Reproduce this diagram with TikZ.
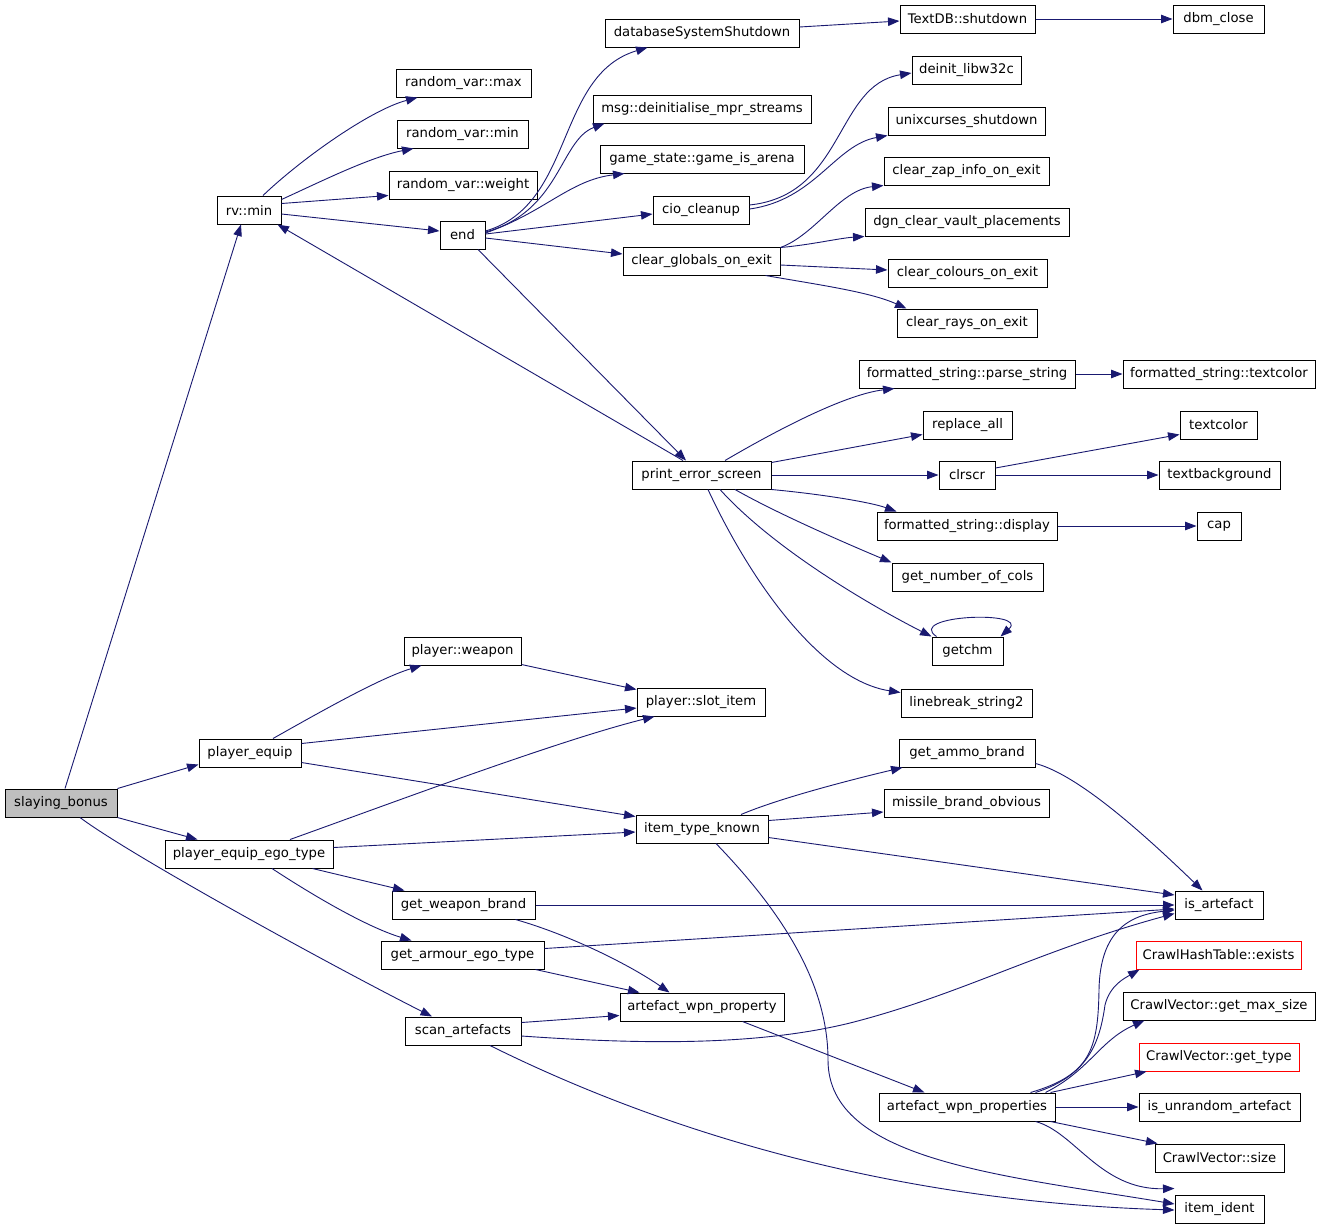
\documentclass[tikz,border=0pt]{standalone}
\usepackage{fontspec}
\setmainfont{DejaVu Sans}
\usetikzlibrary{arrows.meta}
\definecolor{edgeblue}{HTML}{191970}
\definecolor{boxgray}{HTML}{BFBFBF}
\definecolor{boxred}{HTML}{FF0000}
\begin{document}
\begin{tikzpicture}[x=1pt,y=-1pt,
  fn/.style={draw=black, line width=1pt, rectangle, minimum height=28pt, inner sep=0pt,
    font=\fontsize{13.2}{16}\selectfont, anchor=center},
  fnred/.style={fn, draw=boxred},
  fnroot/.style={fn, fill=boxgray},
  ed/.style={draw=edgeblue, line width=0.9pt, -{Triangle[length=11.5pt,width=8.5pt]}}]
\useasboundingbox (0,0) rectangle (1320,1227);
\fill[white] (0,0) rectangle (1320,1227);
% nodes
\node[fnroot, minimum width=112pt] (sb) at (61,803) {slaying\_bonus};
\node[fn, minimum width=64pt] (rvmin) at (249,210) {rv::min};
\node[fn, minimum width=135pt] (rvmax) at (463.5,83) {random\_var::max};
\node[fn, minimum width=131pt] (rvmn) at (462.5,134) {random\_var::min};
\node[fn, minimum width=148pt] (rvw) at (463,185) {random\_var::weight};
\node[fn, minimum width=45pt] (endn) at (462.5,235) {end};
\node[fn, minimum width=194pt] (dss) at (702,33) {databaseSystemShutdown};
\node[fn, minimum width=218pt] (msg) at (702,109) {msg::deinitialise\_mpr\_streams};
\node[fn, minimum width=204pt] (gsa) at (702,159) {game\_state::game\_is\_arena};
\node[fn, minimum width=96pt] (cio) at (701,210) {cio\_cleanup};
\node[fn, minimum width=157pt] (cgoe) at (701.5,261) {clear\_globals\_on\_exit};
\node[fn, minimum width=135pt] (tdb) at (967.5,19) {TextDB::shutdown};
\node[fn, minimum width=91pt] (dbm) at (1218.5,19) {dbm\_close};
\node[fn, minimum width=109pt] (deinit) at (966.5,70) {deinit\_libw32c};
\node[fn, minimum width=157pt] (unix) at (966.5,121) {unixcurses\_shutdown};
\node[fn, minimum width=165pt] (czap) at (966.5,171) {clear\_zap\_info\_on\_exit};
\node[fn, minimum width=204pt] (dgn) at (967,222) {dgn\_clear\_vault\_placements};
\node[fn, minimum width=159pt] (ccol) at (967.5,273) {clear\_colours\_on\_exit};
\node[fn, minimum width=140pt] (crays) at (967,323) {clear\_rays\_on\_exit};
\node[fn, minimum width=216pt] (fsps) at (967,374) {formatted\_string::parse\_string};
\node[fn, minimum width=192pt] (fstc) at (1219,374) {formatted\_string::textcolor};
\node[fn, minimum width=89pt] (ra) at (967.5,425) {replace\_all};
\node[fn, minimum width=77pt] (tcol) at (1218.5,425) {textcolor};
\node[fn, minimum width=56pt] (clrscr) at (967,475) {clrscr};
\node[fn, minimum width=121pt] (tbg) at (1219.5,475) {textbackground};
\node[fn, minimum width=180pt] (fsd) at (967,526) {formatted\_string::display};
\node[fn, minimum width=44pt] (capn) at (1219,526) {cap};
\node[fn, minimum width=151pt] (gnoc) at (967.5,577) {get\_number\_of\_cols};
\node[fn, minimum width=71pt] (getchm) at (967.5,651) {getchm};
\node[fn, minimum width=131pt] (lb2) at (966.5,703) {linebreak\_string2};
\node[fn, minimum width=139pt] (pes) at (701.5,475) {print\_error\_screen};
\node[fn, minimum width=117pt] (pw) at (462.5,651) {player::weapon};
\node[fn, minimum width=128pt] (psi) at (701,702) {player::slot\_item};
\node[fn, minimum width=102pt] (pe) at (250,753) {player\_equip};
\node[fn, minimum width=168pt] (peet) at (249,854) {player\_equip\_ego\_type};
\node[fn, minimum width=132pt] (itk) at (702,829) {item\_type\_known};
\node[fn, minimum width=136pt] (gab) at (967,753) {get\_ammo\_brand};
\node[fn, minimum width=165pt] (mbo) at (966.5,803) {missile\_brand\_obvious};
\node[fn, minimum width=88pt] (isa) at (1219,905) {is\_artefact};
\node[fnred, minimum width=165pt] (chte) at (1218.5,955) {CrawlHashTable::exists};
\node[fn, minimum width=192pt] (cvgms) at (1219,1006) {CrawlVector::get\_max\_size};
\node[fnred, minimum width=160pt] (cvgt) at (1219,1057) {CrawlVector::get\_type};
\node[fn, minimum width=161pt] (iua) at (1219.5,1107) {is\_unrandom\_artefact};
\node[fn, minimum width=129pt] (cvs) at (1219.5,1158) {CrawlVector::size};
\node[fn, minimum width=89pt] (iid) at (1219.5,1209) {item\_ident};
\node[fn, minimum width=176pt] (awps) at (967,1107) {artefact\_wpn\_properties};
\node[fn, minimum width=143pt] (gwb) at (463.5,905) {get\_weapon\_brand};
\node[fn, minimum width=163pt] (gaet) at (462.5,955) {get\_armour\_ego\_type};
\node[fn, minimum width=164pt] (awp) at (702,1007) {artefact\_wpn\_property};
\node[fn, minimum width=116pt] (scan) at (463,1031) {scan\_artefacts};
% edges
\draw[ed] ([xshift=4pt]sb.north) -- ([xshift=-8pt]rvmin.south);
\draw[ed] (sb.north east) -- ([yshift=3pt]pe.south west);
\draw[ed] (sb.south east) -- ([xshift=33pt]peet.north west);
\draw[ed] ([xshift=19pt]sb.south) .. controls (130,855) and (330,965) .. ([xshift=-31pt]scan.north);
\draw[ed] ([xshift=14pt]rvmin.north) .. controls (300,160) and (370,110) .. ([xshift=22pt]rvmax.south west);
\draw[ed] ([yshift=-4pt]rvmin.north east) .. controls (320,182) and (370,157) .. ([xshift=17pt]rvmn.south west);
\draw[ed] ([yshift=-8pt]rvmin.north east) -- ([yshift=4pt]rvw.south west);
\draw[ed] ([yshift=-4pt]rvmin.east) -- ([yshift=4pt]endn.west);
\draw[ed] ([xshift=-18.5pt]pes.north) -- ([xshift=-4pt]rvmin.south east);
\draw[ed] ([xshift=15.5pt]endn.south) -- ([xshift=-15.5pt]pes.north);
\draw[ed] ([yshift=4pt]endn.east) .. controls (575,205) and (555,75) .. ([xshift=43pt]dss.south west);
\draw[ed] ([yshift=3pt]endn.east) .. controls (560,212) and (560,140) .. ([xshift=12pt]msg.south west);
\draw[ed] ([yshift=2pt]endn.east) .. controls (545,212) and (570,180) .. ([xshift=25pt]gsa.south west);
\draw[ed] ([yshift=1pt]endn.east) -- ([yshift=-4pt]cio.west);
\draw[ed] ([yshift=-3pt]endn.east) -- ([yshift=7pt]cgoe.west);
\draw[ed] ([yshift=6pt]dss.east) -- ([yshift=-2pt]tdb.west);
\draw[ed] (tdb.east) -- (dbm.west);
\draw[ed] ([yshift=5pt]cio.east) .. controls (845,195) and (835,85) .. ([yshift=-3pt]deinit.west);
\draw[ed] ([yshift=1pt]cio.east) .. controls (815,200) and (835,145) .. (unix.south west);
\draw[ed] ([yshift=-1pt]cgoe.north east) .. controls (815,235) and (840,190) .. (czap.south west);
\draw[ed] ([yshift=-1pt]cgoe.north east) .. controls (810,245) and (840,238) .. (dgn.south west);
\draw[ed] ([yshift=-4pt]cgoe.east) -- ([yshift=3pt]ccol.west);
\draw[ed] ([xshift=-15pt]cgoe.south east) .. controls (820,285) and (870,292) .. ([xshift=10pt]crays.north west);
\draw[ed] ([xshift=23.5pt]pes.north) .. controls (760,440) and (840,395) .. ([xshift=36pt]fsps.south west);
\draw[ed] ([yshift=-2pt]pes.north east) -- ([yshift=5pt]ra.south west);
\draw[ed] (pes.east) -- (clrscr.west);
\draw[ed] (pes.south east) .. controls (820,494) and (870,502) .. ([xshift=20pt]fsd.north west);
\draw[ed] ([xshift=33.5pt]pes.south) .. controls (780,515) and (850,545) .. (gnoc.north west);
\draw[ed] ([xshift=18.5pt]pes.south) .. controls (770,545) and (860,600) .. (getchm.north west);
\draw[ed] ([xshift=6.5pt]pes.south) .. controls (750,580) and (820,680) .. ([yshift=-4pt]lb2.north west);
\draw[ed] ([xshift=5pt]getchm.north west) .. controls (905,615) and (1030,610) .. ([xshift=-3pt]getchm.north east);
\draw[ed] ([yshift=7pt]clrscr.east) -- ([yshift=5pt]tcol.south west);
\draw[ed] (clrscr.east) -- (tbg.west);
\draw[ed] (fsps.east) -- (fstc.west);
\draw[ed] (fsd.east) -- (capn.west);
\draw[ed] ([xshift=23pt]pe.north) .. controls (320,712) and (380,678) .. ([xshift=18pt]pw.south west);
\draw[ed] ([yshift=-5pt]pe.north east) -- ([yshift=-6pt]psi.west);
\draw[ed] ([yshift=1pt]pw.south east) -- ([yshift=-2pt]psi.north west);
\draw[ed] ([yshift=5pt]pe.south east) -- ([yshift=-2pt]itk.north west);
\draw[ed] ([xshift=41pt]peet.north) .. controls (400,800) and (560,740) .. ([xshift=18pt]psi.south west);
\draw[ed] ([yshift=-8pt]peet.north east) -- ([yshift=-3pt]itk.west);
\draw[ed] ([xshift=-21pt]peet.south east) -- ([xshift=13pt]gwb.north west);
\draw[ed] ([xshift=23pt]peet.south) .. controls (320,900) and (370,928) .. ([xshift=31pt]gaet.north west);
\draw[ed] ([xshift=39pt]itk.north) .. controls (780,798) and (850,780) .. ([xshift=4pt]gab.south west);
\draw[ed] ([yshift=-6pt]itk.north east) -- ([yshift=-9pt]mbo.west);
\draw[ed] ([yshift=6pt]itk.south east) -- ([yshift=10pt]isa.west);
\draw[ed] ([xshift=14pt]itk.south) .. controls (790,920) and (828,990) .. (828,1060) .. controls (828,1160) and (1000,1175) .. ([yshift=5pt]iid.west);
\draw[ed] ([yshift=4pt]gab.south east) .. controls (1080,775) and (1150,840) .. ([xshift=28pt]isa.north west);
\draw[ed] (gwb.east) -- (isa.west);
\draw[ed] ([xshift=-20pt]gwb.south east) .. controls (570,935) and (630,965) .. ([xshift=50pt]awp.north west);
\draw[ed] ([yshift=-8pt]gaet.north east) -- ([yshift=-4pt]isa.west);
\draw[ed] ([xshift=-9pt]gaet.south east) -- ([xshift=20pt]awp.north west);
\draw[ed] ([yshift=-6pt]scan.north east) -- ([yshift=6pt]awp.south west);
\draw[ed] ([yshift=-5pt]scan.east) .. controls (650,1045) and (760,1045) .. (850,1023) .. controls (960,995) and (1040,950) .. ([yshift=6pt]isa.south west);
\draw[ed] ([xshift=27pt]scan.south) .. controls (620,1110) and (850,1200) .. ([yshift=-1pt]iid.west);
\draw[ed] ([xshift=-42pt]awp.south east) -- ([xshift=46pt]awps.north west);
\draw[ed] ([xshift=-25pt]awps.north east) .. controls (1090,1075) and (1098,1050) .. (1099,990) .. controls (1100,930) and (1130,915) .. ([yshift=-5pt]isa.west);
\draw[ed] ([xshift=-20pt]awps.north east) .. controls (1090,1075) and (1100,1040) .. (1105,1005) .. controls (1110,985) and (1125,978) .. ([xshift=4pt]chte.south west);
\draw[ed] ([xshift=-10pt]awps.north east) .. controls (1090,1070) and (1100,1040) .. ([xshift=22pt]cvgms.south west);
\draw[ed] ([xshift=-5pt]awps.north east) -- ([xshift=8pt]cvgt.south west);
\draw[ed] (awps.east) -- (iua.west);
\draw[ed] ([xshift=-5pt]awps.south east) -- ([xshift=3pt]cvs.north west);
\draw[ed] ([xshift=-20pt]awps.south east) .. controls (1075,1132) and (1100,1190) .. ([yshift=6pt]iid.north west);
\end{tikzpicture}
\end{document}
